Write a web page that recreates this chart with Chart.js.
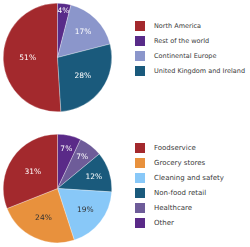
<!DOCTYPE html>
<html>
<head>
<meta charset="utf-8">
<script src="https://cdn.jsdelivr.net/npm/chart.js@4"></script>
<style>
  html, body { margin: 0; padding: 0; background: #fff; }
  #wrap { position: relative; width: 250px; height: 247px; overflow: hidden; }
  canvas { position: absolute; }
  #pie-region { left: 3px; top: 3px; }
  #pie-segment { left: 3px; top: 134px; }
  .legend { position: absolute; left: 135px; margin: 0; padding: 0; list-style: none;
            font-family: "DejaVu Sans", sans-serif; font-size: 6.5px; color: #3a3a3a; }
  .legend li { height: 15.2px; display: flex; align-items: center; white-space: nowrap; }
  .legend i { display: inline-block; width: 10px; height: 10px; margin-right: 9px; }
  #legend-region { top: 18px; }
  #legend-segment { top: 141px; }
  #legend-segment li { height: 14.9px; font-size: 7px; }
</style>
</head>
<body>
<div id="wrap">
  <canvas id="pie-region" width="109" height="109"></canvas>
  <ul class="legend" id="legend-region"></ul>
  <canvas id="pie-segment" width="109" height="109"></canvas>
  <ul class="legend" id="legend-segment"></ul>
</div>
<script>
// ---------- data ----------
const regionLabels = ["North America", "Rest of the world", "Continental Europe", "United Kingdom and Ireland"];
const regionValues = [51, 4, 17, 28];
const regionColors = ["#a3292d", "#582b89", "#8b96cb", "#1a5a7c"];

// segments, listed clockwise from the top (legend shows them reversed)
const segmentLabels = ["Other", "Healthcare", "Non-food retail", "Cleaning and safety", "Grocery stores", "Foodservice"];
const segmentValues = [7, 7, 12, 19, 24, 31];
const segmentColors = ["#5a2a88", "#6e5c99", "#1a5a7c", "#88c8f8", "#e8913d", "#a3292d"];

// ---------- percent labels inside slices ----------
const brightness = (hex) => {
  const n = parseInt(hex.slice(1), 16);
  return 0.299 * (n >> 16) + 0.587 * ((n >> 8) & 255) + 0.114 * (n & 255);
};

const sliceLabels = {
  id: "sliceLabels",
  afterDatasetsDraw(chart) {
    const ctx = chart.ctx;
    const ds = chart.data.datasets[0];
    const total = ds.data.reduce((a, b) => a + b, 0);
    ctx.save();
    ctx.font = "7.5px 'DejaVu Sans', sans-serif";
    ctx.textAlign = "center";
    ctx.textBaseline = "middle";
    chart.getDatasetMeta(0).data.forEach((arc, i) => {
      const share = ds.data[i] / total;
      const f = Math.max(0.55, 0.8 - 0.8 * share) + (share < 0.05 ? 0.1 : 0);
      const mid = (arc.startAngle + arc.endAngle) / 2;
      const x = arc.x + Math.cos(mid) * arc.outerRadius * f;
      const y = arc.y + Math.sin(mid) * arc.outerRadius * f;
      ctx.fillStyle = brightness(ds.backgroundColor[i]) > 155 ? "#333" : "#fff";
      ctx.fillText(Math.round(share * 100) + "%", x, y);
    });
    ctx.restore();
  },
};

function makePie(id, labels, values, colors, rotation) {
  return new Chart(document.getElementById(id), {
    type: "pie",
    data: {
      labels,
      datasets: [{ data: values, backgroundColor: colors, borderColor: "rgba(255,255,255,.6)", borderWidth: 0.5 }],
    },
    options: {
      responsive: false,
      animation: false,
      rotation,
      layout: { padding: 0 },
      plugins: { legend: { display: false }, tooltip: { enabled: false } },
    },
    plugins: [sliceLabels],
  });
}

// North America ends at the top, so start it where the other three leave off
const regionRotation = 360 * (1 - regionValues[0] / regionValues.reduce((a, b) => a + b, 0));
makePie("pie-region", regionLabels, regionValues, regionColors, regionRotation);
makePie("pie-segment", segmentLabels, segmentValues, segmentColors, 0);

// ---------- legends ----------
function fillLegend(id, labels, colors) {
  document.getElementById(id).innerHTML = labels.map((l, i) =>
    `<li><i style="background:${colors[i]}"></i>${l}</li>`).join("");
}
fillLegend("legend-region", regionLabels, regionColors);
fillLegend("legend-segment", segmentLabels.slice().reverse(), segmentColors.slice().reverse());
</script>
</body>
</html>
